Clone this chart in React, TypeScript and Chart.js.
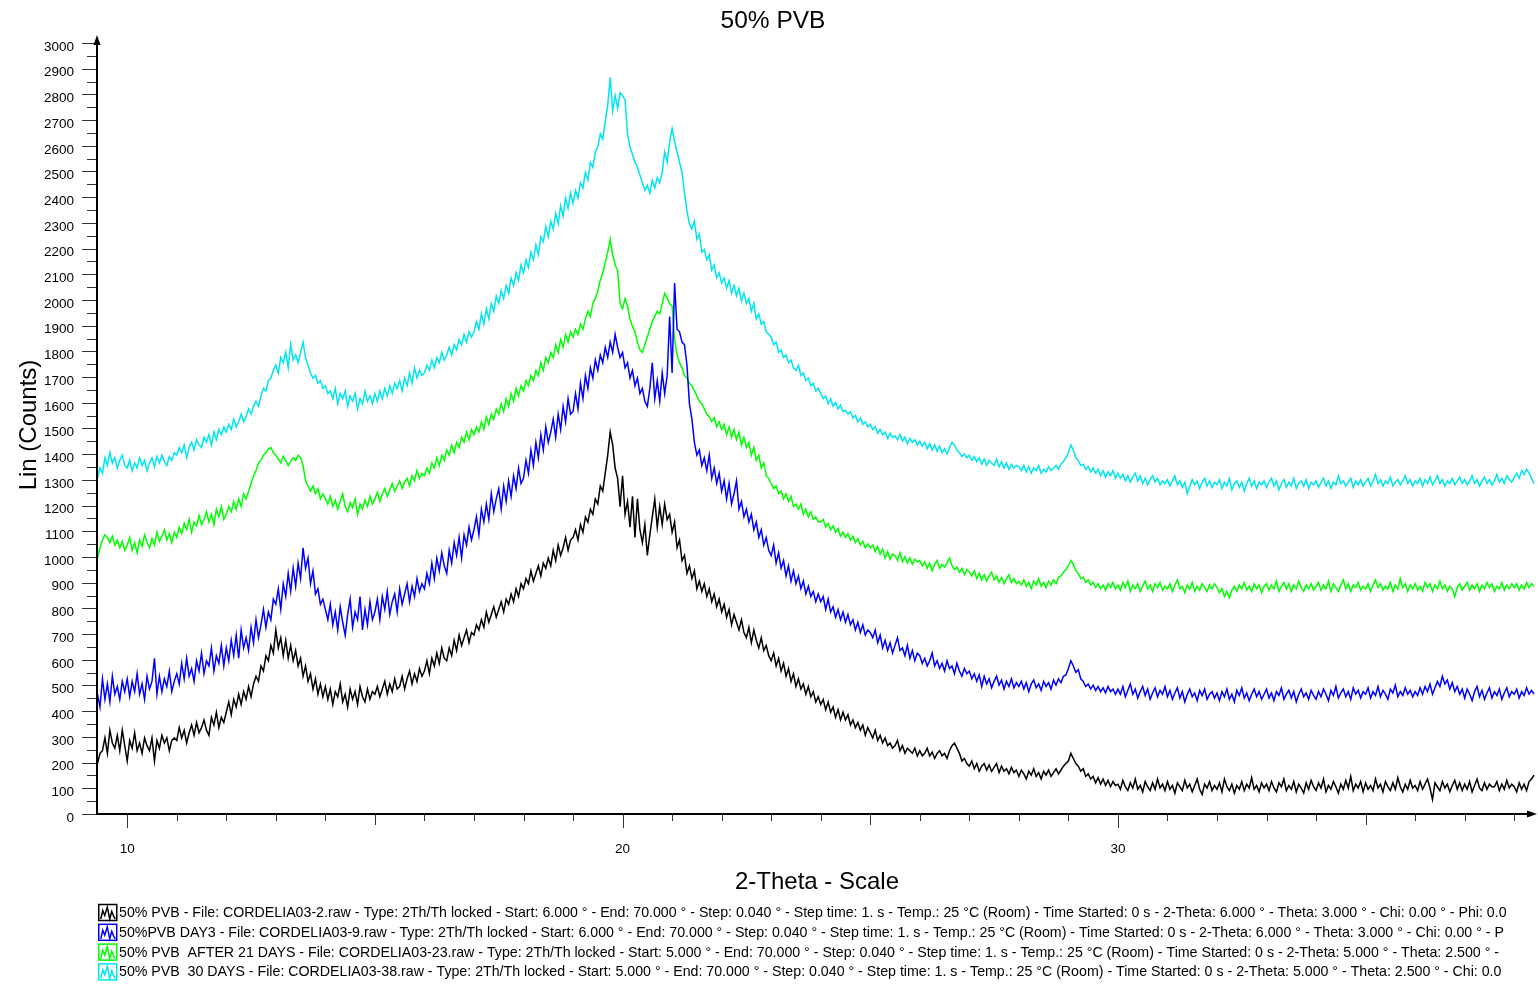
import React, { useEffect, useRef } from 'react';
import { Chart, registerables } from 'chart.js';

Chart.register(...registerables);

// 2-Theta scan: each row is one degree (first row starts at 9.40), step 0.05 deg
const FIRST_X = 9.4;
const X_STEP = 0.05;

// Lin (Counts) — 50% PVB
const black50 = [
  [200, 240, 250, 300, 240, 330, 280, 260, 310, 250, 330, 270],
  [210, 290, 260, 320, 250, 280, 240, 300, 270, 250, 300, 210, 290, 260, 310, 280, 300, 250, 290, 300],
  [290, 340, 300, 330, 280, 320, 350, 310, 360, 320, 340, 370, 330, 310, 380, 350, 400, 340, 380, 360],
  [400, 440, 390, 450, 420, 470, 430, 480, 450, 500, 460, 510, 540, 520, 580, 560, 620, 600, 660, 630],
  [720, 650, 690, 620, 680, 610, 660, 600, 640, 580, 610, 540, 580, 520, 550, 490, 530, 470, 510, 460],
  [500, 450, 490, 430, 480, 460, 510, 440, 470, 420, 490, 450, 480, 430, 500, 460, 440, 490, 450, 480],
  [470, 500, 460, 490, 520, 470, 510, 480, 530, 490, 500, 540, 490, 530, 560, 510, 550, 520, 570, 540],
  [560, 600, 550, 610, 580, 630, 590, 650, 610, 600, 650, 620, 680, 640, 700, 660, 690, 720, 670, 710],
  [700, 740, 720, 760, 730, 790, 750, 780, 810, 770, 800, 830, 790, 840, 820, 860, 830, 880, 850, 900],
  [880, 920, 900, 950, 910, 940, 970, 930, 980, 960, 1000, 970, 1030, 990, 1050, 1010, 1040, 1080, 1030, 1070],
  [1080, 1110, 1070, 1130, 1100, 1160, 1140, 1190, 1170, 1230, 1210, 1280, 1260, 1330, 1400, 1490, 1440, 1350, 1310, 1200],
  [1320, 1170, 1220, 1120, 1240, 1080, 1230, 1110, 1060, 1130, 1010, 1090, 1160, 1230, 1120, 1200, 1130, 1210, 1150, 1170],
  [1100, 1140, 1040, 1070, 990, 1010, 940, 970, 920, 950, 880, 910, 870, 900, 850, 880, 830, 860, 810, 840],
  [790, 820, 770, 800, 740, 780, 750, 720, 760, 710, 690, 730, 670, 720, 680, 650, 690, 640, 660, 620],
  [600, 630, 580, 610, 560, 590, 540, 570, 520, 550, 500, 530, 490, 510, 470, 500, 460, 480, 440, 460],
  [430, 450, 410, 440, 400, 420, 380, 410, 370, 400, 370, 390, 350, 370, 340, 360, 330, 350, 310, 340],
  [320, 300, 330, 290, 310, 280, 300, 270, 280, 260, 270, 290, 250, 270, 240, 260, 250, 240, 260, 230],
  [250, 230, 240, 260, 230, 245, 220, 240, 250, 230, 240, 220, 250, 270, 280, 260, 240, 210, 220, 200],
  [190, 210, 180, 200, 170, 190, 200, 175, 195, 170, 185, 200, 165, 190, 170, 180, 160, 185, 165, 175],
  [150, 175, 160, 140, 170, 155, 180, 150, 165, 140, 170, 155, 175, 150, 165, 180, 160, 175, 190, 200],
  [210, 240, 220, 200, 190, 170, 180, 150, 160, 140, 150, 125, 145, 120, 140, 115, 135, 110, 130, 115],
  [120, 100, 135, 110, 95, 125, 105, 140, 100, 115, 90, 130, 110, 95, 125, 100, 140, 105, 120, 95],
  [130, 100, 115, 85, 125, 110, 95, 135, 105, 120, 90, 115, 140, 100, 80, 120, 105, 130, 95, 115],
  [100, 125, 90, 140, 110, 95, 120, 85, 115, 100, 130, 95, 120, 105, 145, 100, 115, 90, 125, 105],
  [120, 95, 130, 105, 90, 125, 110, 140, 95, 115, 100, 130, 90, 120, 105, 85, 125, 100, 135, 110],
  [95, 125, 105, 140, 90, 115, 100, 130, 110, 85, 120, 100, 135, 105, 150, 95, 120, 105, 130, 90],
  [125, 100, 115, 95, 140, 105, 120, 90, 130, 110, 95, 125, 100, 145, 110, 90, 120, 100, 135, 105],
  [115, 95, 130, 100, 120, 140, 105, 60, 125, 110, 95, 130, 105, 120, 90, 115, 135, 100, 125, 95],
  [120, 100, 130, 90, 115, 140, 105, 95, 125, 100, 120, 110, 110, 130, 95, 120, 100, 135, 105, 120],
  [110, 90, 125, 100, 120, 95, 130, 140, 155],
];

// Lin (Counts) — 50%PVB DAY3
const blueDay3 = [
  [470, 420, 530, 450, 510, 440, 540, 470, 500, 450, 520, 480],
  [530, 460, 520, 480, 550, 470, 510, 450, 540, 490, 520, 610, 470, 540, 480, 530, 500, 560, 480, 520],
  [550, 510, 590, 530, 610, 540, 570, 520, 600, 560, 630, 550, 600, 580, 650, 560, 620, 590, 660, 580],
  [650, 600, 680, 620, 700, 610, 720, 650, 690, 640, 730, 670, 760, 690, 740, 800, 730, 790, 760, 840],
  [820, 880, 800, 900, 850, 940, 870, 960, 890, 980, 920, 1040, 960, 1000, 900, 950, 860, 880, 820, 840],
  [800, 760, 820, 740, 790, 720, 810, 750, 700, 780, 840, 730, 790, 760, 850, 720, 800, 740, 830, 760],
  [790, 840, 760, 850, 800, 870, 780, 830, 860, 790, 880, 820, 860, 900, 830, 890, 850, 920, 870, 900],
  [880, 940, 900, 980, 920, 1000, 950, 1020, 970, 940, 1030, 980, 1060, 1010, 1080, 1000, 1090, 1050, 1120, 1070],
  [1110, 1160, 1090, 1190, 1140, 1210, 1150, 1250, 1180, 1230, 1270, 1190, 1280, 1220, 1300, 1240, 1320, 1270, 1350, 1290],
  [1310, 1380, 1330, 1420, 1360, 1450, 1390, 1480, 1420, 1510, 1450, 1490, 1540, 1470, 1560, 1500, 1590, 1530, 1620, 1560],
  [1570, 1640, 1580, 1680, 1620, 1710, 1660, 1740, 1700, 1770, 1730, 1790, 1760, 1820, 1780, 1840, 1800, 1870, 1820, 1780],
  [1800, 1740, 1760, 1700, 1730, 1670, 1700, 1640, 1660, 1610, 1590, 1660, 1760, 1620, 1690, 1610, 1720, 1640, 1710, 1940],
  [1720, 2070, 1890, 1880, 1840, 1830, 1750, 1600, 1540, 1450, 1400, 1420, 1360, 1390, 1340, 1400, 1310, 1350, 1290, 1330],
  [1260, 1300, 1230, 1290, 1210, 1250, 1300, 1190, 1220, 1160, 1190, 1140, 1170, 1110, 1140, 1080, 1110, 1050, 1080, 1030],
  [1010, 1050, 980, 1020, 960, 990, 930, 970, 910, 950, 900, 930, 880, 910, 860, 890, 850, 870, 830, 860],
  [830, 850, 800, 840, 790, 810, 770, 800, 760, 790, 750, 780, 740, 760, 720, 750, 710, 740, 700, 720],
  [710, 690, 720, 670, 700, 650, 680, 640, 670, 630, 660, 690, 640, 650, 620, 660, 610, 640, 600, 630],
  [620, 590, 610, 580, 600, 630, 580, 600, 570, 590, 560, 600, 570, 580, 550, 590, 560, 540, 570, 550],
  [560, 530, 550, 520, 545, 500, 540, 510, 530, 495, 520, 540, 505, 525, 490, 520, 500, 530, 495, 515],
  [500, 520, 490, 515, 480, 510, 525, 495, 510, 485, 520, 500, 515, 490, 525, 505, 530, 515, 540, 545],
  [570, 600, 580, 555, 565, 530, 520, 500, 510, 490, 505, 485, 500, 480, 495, 475, 500, 480, 490, 470],
  [490, 470, 500, 460, 485, 510, 470, 490, 455, 480, 500, 465, 490, 450, 475, 495, 460, 485, 470, 500],
  [460, 485, 450, 475, 495, 455, 480, 440, 470, 490, 460, 475, 445, 485, 465, 490, 450, 470, 480, 455],
  [475, 445, 480, 460, 490, 450, 470, 440, 485, 465, 495, 455, 475, 445, 470, 490, 460, 480, 450, 470],
  [490, 455, 475, 445, 480, 465, 495, 450, 470, 485, 455, 480, 440, 470, 490, 460, 475, 450, 485, 465],
  [450, 480, 460, 490, 470, 445, 485, 465, 500, 455, 475, 490, 460, 480, 450, 495, 470, 485, 455, 480],
  [470, 495, 455, 480, 465, 500, 460, 485, 470, 450, 490, 475, 505, 460, 480, 465, 495, 470, 485, 460],
  [480, 465, 495, 470, 500, 480, 510, 470, 495, 520, 500, 540, 510, 525, 490, 515, 480, 500, 470, 490],
  [455, 490, 470, 445, 480, 500, 460, 485, 450, 475, 495, 455, 480, 465, 490, 450, 475, 495, 460, 480],
  [470, 490, 455, 480, 465, 495, 470, 485, 470],
];

// Lin (Counts) — 50% PVB AFTER 21 DAYS
const green21 = [
  [1000, 1040, 1070, 1090, 1080, 1060, 1085, 1050, 1070, 1040, 1065, 1030],
  [1050, 1080, 1030, 1060, 1020, 1070, 1045, 1090, 1060, 1040, 1075, 1050, 1100, 1065, 1085, 1110, 1070, 1095, 1060, 1100],
  [1080, 1120, 1095, 1135, 1110, 1150, 1100, 1140, 1125, 1165, 1130, 1150, 1180, 1140, 1170, 1130, 1190, 1160, 1200, 1150],
  [1170, 1200, 1180, 1220, 1190, 1230, 1200, 1250, 1230, 1260, 1290, 1320, 1340, 1370, 1380, 1400, 1410, 1425, 1430, 1410],
  [1400, 1385, 1370, 1395, 1380, 1360, 1375, 1390, 1380, 1400, 1390, 1360, 1300, 1280, 1260, 1280, 1250, 1270, 1230, 1250],
  [1230, 1210, 1240, 1200, 1225, 1190, 1220, 1250, 1200, 1180, 1215, 1195, 1230, 1170, 1210, 1190, 1225, 1200, 1240, 1210],
  [1230, 1255, 1220, 1250, 1270, 1240, 1265, 1290, 1260, 1280, 1300, 1270, 1295, 1310, 1280, 1320, 1300, 1340, 1310, 1330],
  [1320, 1350, 1330, 1370, 1350, 1390, 1360, 1400, 1380, 1420, 1400, 1440, 1410, 1450, 1430, 1470, 1450, 1490, 1460, 1500],
  [1480, 1510, 1490, 1530, 1500, 1550, 1520, 1560, 1540, 1580, 1560, 1600, 1570, 1620, 1590, 1640, 1610, 1660, 1630, 1670],
  [1650, 1690, 1670, 1710, 1690, 1730, 1710, 1760, 1730, 1780, 1760, 1800, 1780, 1830, 1800, 1850, 1820, 1870, 1840, 1880],
  [1860, 1890, 1870, 1910, 1890, 1930, 1960, 1940, 1990, 2010, 2040, 2080, 2110, 2150, 2190, 2240, 2180, 2140, 2120, 1990],
  [1970, 2010, 1980, 1930, 1900, 1880, 1840, 1810, 1800, 1830, 1860, 1890, 1920, 1940, 1960, 1950, 1990, 2030, 2010, 1990],
  [1980, 1850, 1790, 1760, 1740, 1710, 1700, 1680, 1670, 1650, 1630, 1610, 1600, 1580, 1560, 1550, 1530, 1545, 1510, 1530],
  [1500, 1520, 1480, 1510, 1470, 1500, 1460, 1490, 1440, 1470, 1430, 1450, 1400, 1430, 1380, 1400, 1350, 1370, 1320, 1310],
  [1290, 1270, 1280, 1250, 1260, 1230, 1250, 1220, 1240, 1200, 1210, 1190, 1210, 1170, 1190, 1160, 1180, 1150, 1160, 1140],
  [1140, 1150, 1120, 1135, 1110, 1125, 1100, 1115, 1085, 1100, 1080, 1095, 1070, 1085, 1060, 1075, 1050, 1065, 1040, 1055],
  [1040, 1050, 1025, 1045, 1015, 1035, 1000, 1025, 995, 1015, 1010, 990, 1020, 985, 1005, 980, 1000, 975, 995, 985],
  [990, 970, 985, 960, 980, 950, 975, 990, 960, 975, 965, 980, 1000, 970, 955, 965, 945, 960, 935, 955],
  [945, 930, 950, 920, 940, 915, 935, 910, 930, 945, 915, 930, 905, 925, 900, 920, 935, 905, 920, 900],
  [910, 895, 915, 890, 905, 880, 910, 895, 920, 890, 905, 885, 910, 895, 915, 900, 925, 930, 945, 955],
  [970, 990, 975, 950, 940, 920, 925, 905, 915, 895, 905, 885, 900, 880, 895, 875, 900, 885, 905, 880],
  [895, 875, 905, 885, 910, 870, 895, 880, 900, 870, 890, 910, 880, 895, 870, 900, 885, 905, 875, 890],
  [880, 900, 870, 895, 915, 880, 890, 865, 895, 880, 905, 870, 890, 875, 900, 885, 870, 895, 880, 900],
  [885, 865, 880, 850, 870, 845, 875, 890, 870, 895, 880, 905, 875, 890, 870, 900, 880, 895, 865, 890],
  [900, 875, 895, 880, 910, 870, 890, 905, 880, 900, 870, 895, 880, 910, 885, 870, 895, 880, 900, 875],
  [890, 905, 875, 895, 880, 910, 870, 900, 885, 870, 895, 915, 880, 900, 870, 895, 885, 905, 875, 890],
  [880, 900, 870, 895, 915, 885, 900, 875, 890, 880, 905, 870, 895, 880, 920, 885, 900, 870, 895, 880],
  [900, 875, 890, 870, 905, 885, 900, 870, 895, 880, 910, 880, 895, 870, 890, 880, 850, 885, 900, 875],
  [890, 905, 875, 895, 880, 900, 870, 895, 880, 905, 885, 900, 870, 890, 880, 905, 875, 895, 880, 900],
  [885, 900, 875, 895, 880, 905, 885, 900, 890],
];

// Lin (Counts) — 50% PVB 30 DAYS
const cyan30 = [
  [1310, 1350, 1330, 1390, 1360, 1410, 1370, 1390, 1350, 1380, 1400, 1360],
  [1350, 1380, 1340, 1370, 1350, 1390, 1360, 1380, 1340, 1370, 1390, 1355, 1395, 1370, 1400, 1375, 1360, 1395, 1380, 1410],
  [1400, 1430, 1410, 1440, 1390, 1430, 1450, 1420, 1460, 1440, 1430, 1470, 1450, 1480, 1440, 1490, 1460, 1500, 1480, 1510],
  [1490, 1520, 1500, 1540, 1510, 1530, 1560, 1530, 1550, 1580, 1560, 1590, 1610, 1590, 1630, 1660, 1650, 1690, 1700, 1730],
  [1750, 1720, 1780, 1760, 1800, 1740, 1830, 1770, 1790, 1760, 1800, 1840, 1780, 1750, 1720, 1700, 1710, 1680, 1690, 1660],
  [1670, 1640, 1650, 1620, 1660, 1600, 1640, 1620, 1650, 1590, 1630, 1610, 1640, 1580, 1620, 1600, 1650, 1610, 1630, 1600],
  [1640, 1610, 1650, 1620, 1660, 1630, 1670, 1640, 1680, 1660, 1690, 1650, 1700, 1670, 1720, 1680, 1740, 1700, 1730, 1710],
  [1720, 1750, 1730, 1770, 1740, 1780, 1760, 1800, 1770, 1790, 1820, 1790, 1830, 1810, 1850, 1830, 1870, 1840, 1880, 1860],
  [1880, 1920, 1890, 1950, 1910, 1970, 1930, 1990, 1960, 2020, 1990, 2040, 2010, 2060, 2030, 2090, 2060, 2110, 2080, 2140],
  [2110, 2160, 2130, 2190, 2160, 2220, 2180, 2250, 2230, 2290, 2250, 2310, 2280, 2340, 2300, 2370, 2330, 2400, 2360, 2420],
  [2380, 2430, 2400, 2460, 2440, 2500, 2470, 2540, 2520, 2580, 2600, 2650, 2630, 2700, 2760, 2870, 2740, 2800, 2750, 2810],
  [2800, 2780, 2650, 2600, 2570, 2540, 2520, 2490, 2460, 2430, 2450, 2420, 2470, 2440, 2480, 2460, 2500, 2580, 2540, 2620],
  [2670, 2620, 2580, 2540, 2500, 2420, 2350, 2300, 2280, 2310, 2240, 2260, 2190, 2200, 2160, 2180, 2120, 2140, 2090, 2110],
  [2070, 2090, 2050, 2080, 2030, 2060, 2020, 2050, 2000, 2030, 1990, 2010, 1960, 1990, 1930, 1950, 1910, 1920, 1880, 1870],
  [1860, 1830, 1840, 1800, 1810, 1780, 1790, 1760, 1770, 1740, 1730, 1750, 1710, 1720, 1690, 1700, 1670, 1680, 1650, 1660],
  [1640, 1620, 1630, 1600, 1620, 1590, 1605, 1580, 1595, 1570, 1575, 1560, 1570, 1545, 1555, 1530, 1545, 1520, 1530, 1510],
  [1520, 1500, 1510, 1485, 1500, 1480, 1490, 1465, 1485, 1470, 1475, 1460, 1480, 1455, 1470, 1445, 1465, 1450, 1460, 1440],
  [1455, 1435, 1450, 1425, 1445, 1420, 1440, 1415, 1435, 1410, 1425, 1405, 1430, 1450, 1440, 1420, 1410, 1395, 1405, 1390],
  [1400, 1380, 1395, 1375, 1390, 1365, 1385, 1360, 1380, 1370, 1360, 1385, 1355, 1375, 1350, 1370, 1345, 1365, 1350, 1360],
  [1355, 1340, 1360, 1335, 1355, 1330, 1350, 1340, 1360, 1330, 1345, 1335, 1355, 1340, 1350, 1360, 1345, 1365, 1375, 1390],
  [1410, 1440, 1420, 1390, 1380, 1360, 1365, 1345, 1355, 1335, 1350, 1330, 1345, 1320, 1340, 1315, 1335, 1320, 1340, 1310],
  [1330, 1310, 1325, 1300, 1320, 1295, 1315, 1330, 1300, 1320, 1290, 1310, 1285, 1305, 1320, 1295, 1310, 1285, 1300, 1290],
  [1305, 1280, 1300, 1320, 1285, 1300, 1275, 1295, 1250, 1280, 1305, 1285, 1300, 1270, 1295, 1310, 1280, 1300, 1275, 1295],
  [1285, 1305, 1270, 1295, 1280, 1310, 1265, 1290, 1300, 1275, 1295, 1260, 1290, 1310, 1280, 1300, 1270, 1295, 1285, 1300],
  [1275, 1295, 1310, 1280, 1300, 1265, 1290, 1305, 1275, 1295, 1280, 1310, 1270, 1290, 1300, 1280, 1305, 1270, 1295, 1285],
  [1300, 1275, 1295, 1310, 1280, 1300, 1270, 1295, 1285, 1320, 1290, 1300, 1280, 1295, 1310, 1275, 1300, 1285, 1305, 1280],
  [1295, 1310, 1280, 1300, 1325, 1290, 1305, 1280, 1300, 1290, 1315, 1280, 1295, 1305, 1285, 1300, 1320, 1290, 1305, 1280],
  [1300, 1290, 1310, 1280, 1305, 1290, 1315, 1285, 1300, 1320, 1290, 1305, 1280, 1300, 1290, 1310, 1285, 1300, 1315, 1290],
  [1305, 1285, 1300, 1320, 1290, 1305, 1280, 1300, 1315, 1290, 1305, 1285, 1300, 1325, 1295, 1310, 1290, 1320, 1305, 1295],
  [1315, 1330, 1310, 1340, 1325, 1345, 1330, 1310, 1290],
];

const seriesValues = [black50, blueDay3, green21, cyan30];
const seriesColors = ['#000000', '#0000FF', '#00FF00', '#00E5EE'];
const seriesLabels = [
  '50% PVB - File: CORDELIA03-2.raw - Type: 2Th/Th locked - Start: 6.000 ° - End: 70.000 ° - Step: 0.040 ° - Step time: 1. s - Temp.: 25 °C (Room) - Time Started: 0 s - 2-Theta: 6.000 ° - Theta: 3.000 ° - Chi: 0.00 ° - Phi: 0.0',
  '50%PVB DAY3 - File: CORDELIA03-9.raw - Type: 2Th/Th locked - Start: 6.000 ° - End: 70.000 ° - Step: 0.040 ° - Step time: 1. s - Temp.: 25 °C (Room) - Time Started: 0 s - 2-Theta: 6.000 ° - Theta: 3.000 ° - Chi: 0.00 ° - P',
  '50% PVB  AFTER 21 DAYS - File: CORDELIA03-23.raw - Type: 2Th/Th locked - Start: 5.000 ° - End: 70.000 ° - Step: 0.040 ° - Step time: 1. s - Temp.: 25 °C (Room) - Time Started: 0 s - 2-Theta: 5.000 ° - Theta: 2.500 ° -',
  '50% PVB  30 DAYS - File: CORDELIA03-38.raw - Type: 2Th/Th locked - Start: 5.000 ° - End: 70.000 ° - Step: 0.040 ° - Step time: 1. s - Temp.: 25 °C (Room) - Time Started: 0 s - 2-Theta: 5.000 ° - Theta: 2.500 ° - Chi: 0.0',
];

const CHART_TITLE = '50% PVB';
const X_TITLE = '2-Theta - Scale';
const Y_TITLE = 'Lin (Counts)';

const FONT = "'Liberation Sans', Arial, Helvetica, sans-serif";
const W = 1538;
const H = 984;

const rowsToPoints = (rows: number[][]) =>
  rows.flatMap((row, r) => {
    const start = r === 0 ? FIRST_X : Math.floor(FIRST_X) + r;
    return row.map((y, k) => ({ x: Math.round((start + k * X_STEP) * 100) / 100, y }));
  });

// tick marks, axis lines with arrow heads
const axesPlugin = {
  id: 'xrdAxes',
  afterDatasetsDraw(chart: any) {
    const { ctx, chartArea, scales } = chart;
    const xs = scales.x;
    const ys = scales.y;
    const left = chartArea.left;
    const bottom = chartArea.bottom - 1;
    ctx.save();
    ctx.strokeStyle = '#333333';
    ctx.lineWidth = 1;
    for (let v = 0; v <= 3000; v += 50) {
      const py = Math.round(ys.getPixelForValue(v)) - 0.5;
      const len = v % 100 === 0 ? 15 : 10;
      ctx.beginPath();
      ctx.moveTo(left - len, py);
      ctx.lineTo(left, py);
      ctx.stroke();
    }
    for (let v = 10; v <= 38; v += 1) {
      const px = Math.round(xs.getPixelForValue(v)) + 0.5;
      const len = v % 10 === 0 ? 14 : v % 5 === 0 ? 11 : 7;
      ctx.beginPath();
      ctx.moveTo(px, bottom);
      ctx.lineTo(px, bottom + len);
      ctx.stroke();
    }
    ctx.strokeStyle = '#000';
    ctx.fillStyle = '#000';
    ctx.lineWidth = 2;
    ctx.beginPath();
    ctx.moveTo(left, bottom + 1);
    ctx.lineTo(left, chartArea.top + 4);
    ctx.stroke();
    ctx.beginPath();
    ctx.moveTo(left - 1, bottom);
    ctx.lineTo(chartArea.right - 4, bottom);
    ctx.stroke();
    ctx.beginPath();
    ctx.moveTo(left, chartArea.top);
    ctx.lineTo(left - 3.5, chartArea.top + 10);
    ctx.lineTo(left + 3.5, chartArea.top + 10);
    ctx.closePath();
    ctx.fill();
    ctx.beginPath();
    ctx.moveTo(chartArea.right, bottom);
    ctx.lineTo(chartArea.right - 10, bottom - 3.5);
    ctx.lineTo(chartArea.right - 10, bottom + 3.5);
    ctx.closePath();
    ctx.fill();
    ctx.restore();
  },
};

// title and legend rows with small pattern icons
const textPlugin = {
  id: 'xrdText',
  afterDraw(chart: any) {
    const { ctx, chartArea } = chart;
    ctx.save();
    ctx.fillStyle = '#000';
    ctx.textAlign = 'center';
    ctx.textBaseline = 'middle';
    ctx.font = `24.5px ${FONT}`;
    ctx.fillText(CHART_TITLE, 773, 21);

    ctx.font = `14.2px ${FONT}`;
    ctx.textAlign = 'left';
    const x0 = chartArea.left + 1;
    const y0 = chartArea.bottom + 97;
    seriesLabels.forEach((label, i) => {
      const cy = y0 + i * 19.8;
      const color = seriesColors[i];
      ctx.strokeStyle = color;
      ctx.lineWidth = 1.5;
      ctx.strokeRect(x0 + 0.75, cy - 7.5, 18, 16);
      ctx.beginPath();
      const pts = [
        [2, 14.5], [4, 6], [6, 11], [8.5, 2.5], [11, 14.5], [13, 7], [15, 12], [16.5, 14.5],
      ];
      pts.forEach(([px, py], k) => {
        const X = x0 + 0.75 + px;
        const Y = cy - 7.5 + py;
        if (k === 0) ctx.moveTo(X, Y);
        else ctx.lineTo(X, Y);
      });
      ctx.stroke();
      ctx.fillStyle = '#000';
      ctx.fillText(label, x0 + 21, cy + 1);
    });
    ctx.restore();
  },
};

export default function App() {
  const ref = useRef<HTMLCanvasElement>(null);

  useEffect(() => {
    const canvas = ref.current;
    if (!canvas) return;
    const datasets = seriesValues.map((rows, s) => ({
      label: seriesLabels[s],
      data: rowsToPoints(rows),
      borderColor: seriesColors[s],
      backgroundColor: seriesColors[s],
      borderWidth: 1.5,
      pointRadius: 0,
      tension: 0,
      fill: false,
    }));
    const chart = new Chart(canvas, {
      type: 'line',
      data: { datasets },
      options: {
        responsive: false,
        devicePixelRatio: 1,
        animation: false,
        events: [],
        layout: { padding: { top: 35, left: 0, right: 1, bottom: 87 } },
        plugins: {
          legend: { display: false },
          tooltip: { enabled: false },
          title: { display: false },
        },
        scales: {
          x: {
            type: 'linear',
            min: 9.39,
            max: 38.46,
            afterFit: (s: any) => {
              s.height = 82;
            },
            grid: { display: false, drawTicks: false },
            border: { display: false },
            ticks: {
              stepSize: 10,
              includeBounds: false,
              autoSkip: false,
              maxRotation: 0,
              padding: 26,
              color: '#000',
              font: { family: FONT, size: 13.5 },
              callback: (v: any) => String(v),
            },
            title: {
              display: true,
              text: X_TITLE,
              color: '#000',
              font: { family: FONT, size: 24 },
              padding: { top: 0, bottom: 0 },
            },
          },
          y: {
            type: 'linear',
            min: 0,
            max: 3035,
            afterFit: (s: any) => {
              s.width = 97;
            },
            grid: { display: false, drawTicks: false },
            border: { display: false },
            ticks: {
              stepSize: 100,
              includeBounds: false,
              autoSkip: false,
              padding: 23,
              labelOffset: 3,
              color: '#000',
              font: { family: FONT, size: 13.5 },
              callback: (v: any) => String(v),
            },
            title: {
              display: true,
              text: Y_TITLE,
              color: '#000',
              font: { family: FONT, size: 24 },
              padding: { top: 15, bottom: 0 },
            },
          },
        },
      } as any,
      plugins: [axesPlugin, textPlugin],
    });
    return () => chart.destroy();
  }, []);

  return (
    <div style={{ position: 'absolute', left: 0, top: 0, width: W, height: H, background: '#fff' }}>
      <canvas ref={ref} width={W} height={H} style={{ display: 'block', width: W, height: H }} />
    </div>
  );
}
